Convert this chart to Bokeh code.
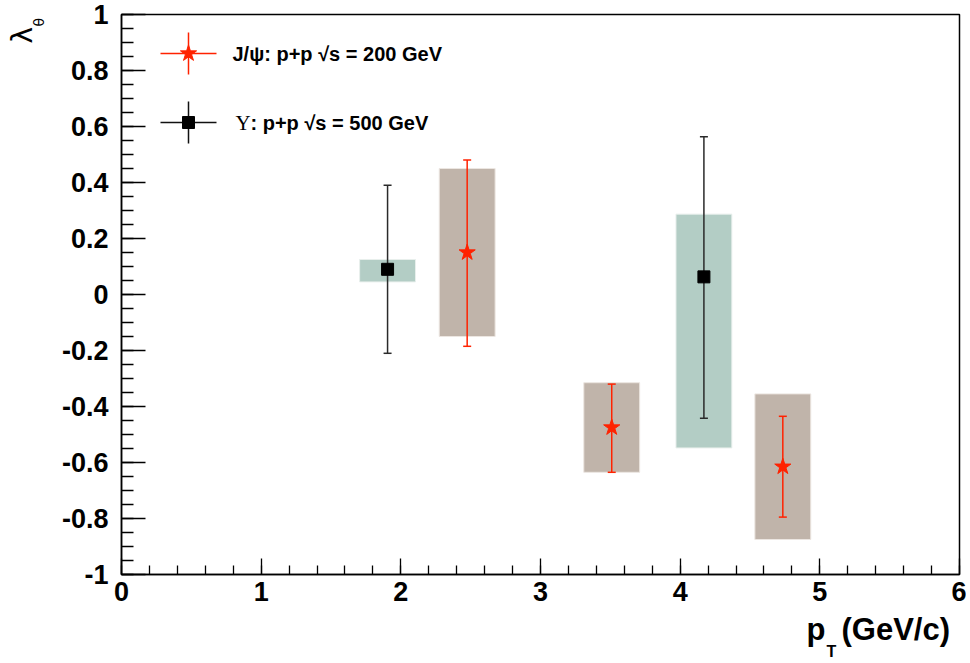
from math import pi
from bokeh.plotting import figure
from bokeh.models import FixedTicker, Label, ColumnDataSource, Range1d
from bokeh.embed import file_html
from bokeh.resources import INLINE

# ---------------- data ----------------
# J/psi, p+p sqrt(s) = 200 GeV
jpsi_pt = [2.475, 3.51, 4.735]
jpsi_lambda = [0.15, -0.475, -0.615]
jpsi_stat_up = [0.33, 0.155, 0.18]
jpsi_stat_dn = [0.335, 0.16, 0.18]
jpsi_sys_up = [0.30, 0.16, 0.26]
jpsi_sys_dn = [0.30, 0.16, 0.26]
jpsi_sys_halfwidth = [0.2, 0.2, 0.2]

# Upsilon, p+p sqrt(s) = 500 GeV
ups_pt = [1.905, 4.17]
ups_lambda = [0.09, 0.063]
ups_stat_up = [0.30, 0.50]
ups_stat_dn = [0.30, 0.505]
ups_sys_up = [0.035, 0.224]
ups_sys_dn = [0.045, 0.611]
ups_sys_halfwidth = [0.2, 0.2]

x_ticks = [0, 1, 2, 3, 4, 5, 6]
x_tick_labels = ["0", "1", "2", "3", "4", "5", "6"]
y_ticks = [-1.0, -0.8, -0.6, -0.4, -0.2, 0.0, 0.2, 0.4, 0.6, 0.8, 1.0]
y_tick_labels = ["-1", "-0.8", "-0.6", "-0.4", "-0.2", "0", "0.2", "0.4", "0.6", "0.8", "1"]
x_bounds = (0, 6)
y_bounds = (-1, 1)

legend_labels = ["J/\u03c8: p+p  \u221as = 200 GeV", ": p+p  \u221as = 500 GeV"]

# ---------------- styling ----------------
RED = "#ff2200"
BLACK = "#111111"
BROWN = "#c0b4aa"
TEAL = "#b3cdc5"
FONT = "Liberation Sans"

# where the axis box sits on the canvas (pixels); the whole canvas is the frame
W, H = 966, 662
FX0, FX1, FY0, FY1 = 121.0, 959.0, 574.0, 14.0
def dx(px):
    return x_bounds[0] + (px - FX0) / (FX1 - FX0) * (x_bounds[1] - x_bounds[0])
def dy(py):
    return y_bounds[0] + (FY0 - py) / (FY0 - FY1) * (y_bounds[1] - y_bounds[0])

p = figure(width=W, height=H, x_range=Range1d(dx(0), dx(W)), y_range=Range1d(dy(H), dy(0)),
           output_backend="svg", toolbar_location=None,
           min_border_left=0, min_border_right=0, min_border_top=0, min_border_bottom=0)
p.title.visible = False
p.xgrid.visible = False
p.ygrid.visible = False
p.outline_line_color = None
p.background_fill_color = "white"
p.border_fill_color = "white"

# axis box
p.quad(left=[x_bounds[0]], right=[x_bounds[1]], bottom=[y_bounds[0]], top=[y_bounds[1]],
       fill_color=None, line_color="black", line_width=1.5)

# axes, pinned to the box edges
p.xaxis.fixed_location = y_bounds[0]
p.yaxis.fixed_location = x_bounds[0]
p.xaxis.bounds = x_bounds
p.yaxis.bounds = y_bounds
p.xaxis.ticker = FixedTicker(ticks=x_ticks, minor_ticks=[i * 0.2 for i in range(31)])
p.yaxis.ticker = FixedTicker(ticks=y_ticks, minor_ticks=[-1 + i * 0.05 for i in range(41)])
p.xaxis.major_label_overrides = {t: l for t, l in zip(x_ticks, x_tick_labels)}
p.yaxis.major_label_overrides = {t: l for t, l in zip(y_ticks, y_tick_labels)}
for ax in (p.xaxis[0], p.yaxis[0]):
    ax.axis_line_color = "black"
    ax.axis_line_width = 1.5
    ax.major_tick_line_color = "black"
    ax.minor_tick_line_color = "black"
    ax.major_tick_line_width = 1.3
    ax.minor_tick_line_width = 1.3
    ax.major_tick_out = 0
    ax.minor_tick_out = 0
    ax.major_label_text_font = FONT
    ax.major_label_text_font_style = "bold"
    ax.major_label_text_font_size = "27px"
    ax.major_label_text_color = "black"
p.xaxis.major_tick_in = 16
p.xaxis.minor_tick_in = 9
p.yaxis.major_tick_in = 24
p.yaxis.minor_tick_in = 12
p.xaxis.major_label_standoff = 7
p.yaxis.major_label_standoff = 13

# systematic boxes
js = ColumnDataSource(dict(
    x=jpsi_pt, y=jpsi_lambda,
    left=[x - w for x, w in zip(jpsi_pt, jpsi_sys_halfwidth)],
    right=[x + w for x, w in zip(jpsi_pt, jpsi_sys_halfwidth)],
    top=[y + s for y, s in zip(jpsi_lambda, jpsi_sys_up)],
    bottom=[y - s for y, s in zip(jpsi_lambda, jpsi_sys_dn)],
    hi=[y + s for y, s in zip(jpsi_lambda, jpsi_stat_up)],
    lo=[y - s for y, s in zip(jpsi_lambda, jpsi_stat_dn)],
))
us = ColumnDataSource(dict(
    x=ups_pt, y=ups_lambda,
    left=[x - w for x, w in zip(ups_pt, ups_sys_halfwidth)],
    right=[x + w for x, w in zip(ups_pt, ups_sys_halfwidth)],
    top=[y + s for y, s in zip(ups_lambda, ups_sys_up)],
    bottom=[y - s for y, s in zip(ups_lambda, ups_sys_dn)],
    hi=[y + s for y, s in zip(ups_lambda, ups_stat_up)],
    lo=[y - s for y, s in zip(ups_lambda, ups_stat_dn)],
))

p.quad(left="left", right="right", top="top", bottom="bottom", source=us,
       fill_color=TEAL, line_color="#e8efec", line_width=1)
p.quad(left="left", right="right", top="top", bottom="bottom", source=js,
       fill_color=BROWN, line_color="#ece6e1", line_width=1)

# statistical error bars
p.segment(x0="x", x1="x", y0="lo", y1="hi", source=us, line_color="#2a2a2a", line_width=1.5)
p.scatter(x="x", y="hi", source=us, marker="dash", size=8, line_color="#2a2a2a", line_width=1.5)
p.scatter(x="x", y="lo", source=us, marker="dash", size=8, line_color="#2a2a2a", line_width=1.5)
p.segment(x0="x", x1="x", y0="lo", y1="hi", source=js, line_color=RED, line_width=1.5)
p.scatter(x="x", y="hi", source=js, marker="dash", size=8, line_color=RED, line_width=1.5)
p.scatter(x="x", y="lo", source=js, marker="dash", size=8, line_color=RED, line_width=1.5)

# markers
p.scatter(x="x", y="y", source=us, marker="square", size=12, fill_color="black", line_color="black")
p.scatter(x="x", y="y", source=js, marker="star", size=17, fill_color=RED, line_color=RED)

# legend (drawn manually, ROOT style)
leg_x = dx(188)
leg_y = [dy(53), dy(122)]
leg_hw = dx(216) - dx(188)
leg_vh = [dy(32) - dy(53), dy(101) - dy(122)]
p.segment(x0=[leg_x - leg_hw] * 2, x1=[leg_x + leg_hw] * 2, y0=leg_y, y1=leg_y,
          line_color=[RED, BLACK], line_width=1.5)
p.segment(x0=[leg_x] * 2, x1=[leg_x] * 2, y0=[leg_y[0] - leg_vh[0], leg_y[1] - leg_vh[1]],
          y1=[leg_y[0] + leg_vh[0], leg_y[1] + leg_vh[1]], line_color=[RED, BLACK], line_width=1.5)
p.scatter(x=[leg_x], y=[leg_y[0]], marker="star", size=17, fill_color=RED, line_color=RED)
p.scatter(x=[leg_x], y=[leg_y[1]], marker="square", size=12, fill_color="black", line_color="black")

p.add_layout(Label(x=dx(232), y=leg_y[0], text=legend_labels[0], text_font=FONT,
                   text_font_style="bold", text_font_size="20px", text_baseline="middle",
                   text_color="black"))
p.add_layout(Label(x=dx(235), y=leg_y[1], text="\u03a5", text_font="Liberation Serif",
                   text_font_size="21px", text_baseline="middle", text_color="black"))
p.add_layout(Label(x=dx(250), y=leg_y[1], text=legend_labels[1], text_font=FONT,
                   text_font_style="bold", text_font_size="20px", text_baseline="middle",
                   text_color="black"))

# axis titles
p.add_layout(Label(x=dx(22), y=dy(43), text="\u03bb", angle=pi / 2, text_font="DejaVu Sans",
                   text_font_size="28px", text_align="left", text_baseline="middle",
                   text_color="black"))
p.add_layout(Label(x=dx(38), y=dy(26), text="\u03b8", angle=pi / 2, text_font="DejaVu Sans",
                   text_font_size="14px", text_align="left", text_baseline="middle",
                   text_color="black"))
p.add_layout(Label(x=dx(806), y=dy(629), text="p", text_font=FONT, text_font_style="bold",
                   text_font_size="31px", text_baseline="middle", text_color="black"))
p.add_layout(Label(x=dx(826), y=dy(651), text="T", text_font=FONT, text_font_style="bold",
                   text_font_size="16px", text_baseline="middle", text_color="black"))
p.add_layout(Label(x=dx(841), y=dy(629), text="(GeV/c)", text_font=FONT, text_font_style="bold",
                   text_font_size="31px", text_baseline="middle", text_color="black"))

open("out.html", "w").write(file_html(p, INLINE))
